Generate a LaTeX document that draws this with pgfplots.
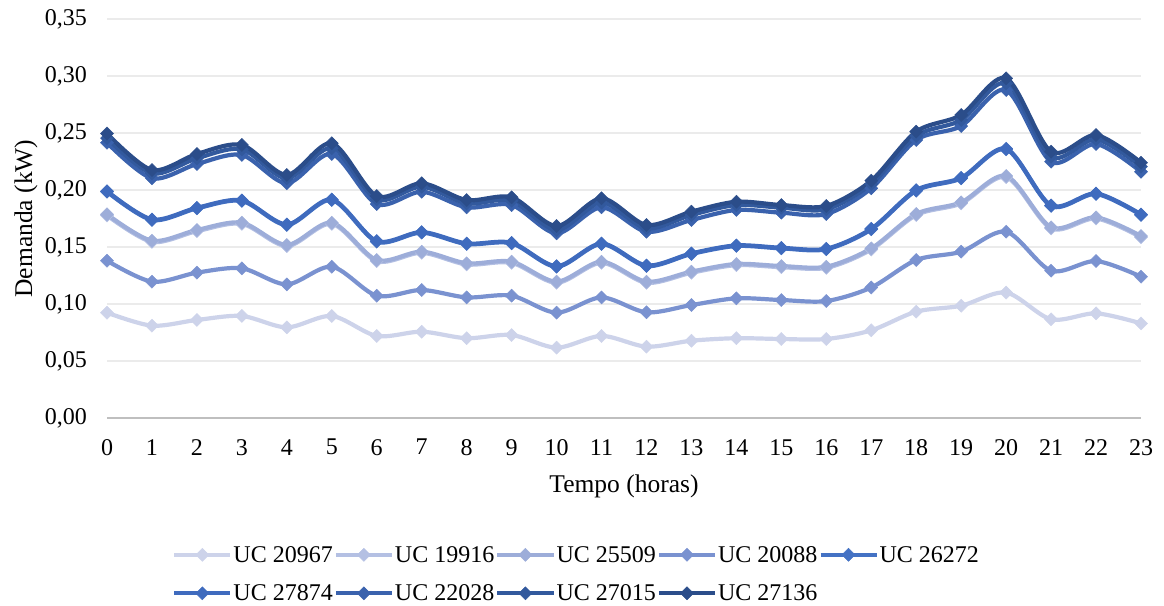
\documentclass[border=0pt]{standalone}
\usepackage{fontspec}
\setmainfont{Liberation Serif}
\usepackage{pgfplots}
\usepackage{pgfplotstable}
\pgfplotsset{compat=1.18}
\definecolor{cA}{HTML}{CDD3EA}
\definecolor{cB}{HTML}{B4C0E3}
\definecolor{cC}{HTML}{9DADD9}
\definecolor{cD}{HTML}{7A92D0}
\definecolor{cE}{HTML}{4472C4}
\definecolor{cF}{HTML}{3F6BBE}
\definecolor{cG}{HTML}{3A62AD}
\definecolor{cH}{HTML}{32599D}
\definecolor{cI}{HTML}{2B4D8A}
\definecolor{gridgray}{HTML}{EBEBEB}
\definecolor{axisgray}{HTML}{BFBFBF}

\pgfplotstableread{
h  uA      uB      uC      uD      uE      uF      uG      uH      uI
0  0.0924  0.1777  0.1787  0.1380  0.1985  0.1990  0.2415  0.2455  0.2495
1  0.0810  0.1545  0.1555  0.1196  0.1737  0.1742  0.2103  0.2146  0.2175
2  0.0860  0.1639  0.1649  0.1275  0.1839  0.1844  0.2228  0.2278  0.2316
3  0.0895  0.1703  0.1713  0.1313  0.1904  0.1909  0.2307  0.2357  0.2395
4  0.0795  0.1508  0.1518  0.1172  0.1693  0.1698  0.2059  0.2103  0.2132
5  0.0895  0.1703  0.1713  0.1327  0.1912  0.1917  0.2316  0.2366  0.2410
6  0.0720  0.1376  0.1386  0.1073  0.1547  0.1552  0.1877  0.1918  0.1947
7  0.0757  0.1449  0.1459  0.1123  0.1626  0.1631  0.1985  0.2029  0.2059
8  0.0700  0.1347  0.1357  0.1058  0.1526  0.1531  0.1848  0.1883  0.1912
9  0.0728  0.1361  0.1371  0.1073  0.1532  0.1537  0.1868  0.1906  0.1936
10 0.0617  0.1186  0.1196  0.0924  0.1327  0.1332  0.1620  0.1649  0.1684
11 0.0720  0.1361  0.1371  0.1058  0.1526  0.1531  0.1848  0.1889  0.1927
12 0.0626  0.1186  0.1196  0.0927  0.1333  0.1338  0.1634  0.1664  0.1693
13 0.0678  0.1274  0.1284  0.0991  0.1439  0.1444  0.1737  0.1781  0.1810
14 0.0700  0.1341  0.1351  0.1050  0.1509  0.1514  0.1825  0.1868  0.1897
15 0.0693  0.1323  0.1333  0.1035  0.1488  0.1493  0.1801  0.1845  0.1868
16 0.0693  0.1317  0.1327  0.1026  0.1480  0.1485  0.1789  0.1831  0.1860
17 0.0769  0.1478  0.1488  0.1145  0.1655  0.1660  0.2015  0.2053  0.2082
18 0.0933  0.1780  0.1790  0.1386  0.1994  0.1999  0.2439  0.2474  0.2512
19 0.0985  0.1882  0.1892  0.1459  0.2102  0.2107  0.2561  0.2614  0.2658
20 0.1100  0.2113  0.2123  0.1634  0.2357  0.2362  0.2877  0.2936  0.2980
21 0.0866  0.1663  0.1673  0.1292  0.1860  0.1865  0.2248  0.2292  0.2336
22 0.0918  0.1750  0.1760  0.1377  0.1965  0.1970  0.2404  0.2445  0.2482
23 0.0830  0.1586  0.1596  0.1240  0.1781  0.1786  0.2160  0.2205  0.2240
}\data

\pgfplotsset{
  ser/.style={color=#1, line width=4.2pt, smooth, mark=square*, mark size=4.6pt,
    mark options={rotate=45, fill=#1, line width=0.5pt, solid}},
}

\begin{document}
\begin{tikzpicture}
\begin{axis}[
  name=ax,
  scale only axis,
  width=1034pt, height=399pt,
  xmin=0, xmax=23, ymin=0, ymax=0.35,
  clip=false,
  xtick={0,1,...,23},
  ytick={0.05,0.1,0.15,0.2,0.25,0.3,0.35},
  extra y ticks={0},
  extra y tick style={grid style={color=axisgray, line width=2pt}},
  axis line style={draw=none},
  major tick length=0pt,
  ymajorgrids,
  grid style={color=gridgray, line width=1.5pt},
  scaled y ticks=false,
  /pgf/number format/assume math mode=true,
  yticklabel style={/pgf/number format/.cd, use comma, fixed, fixed zerofill, precision=2, /tikz/.cd,
     font=\rmfamily\fontsize{24}{28}\selectfont, inner sep=0pt, anchor=east, xshift=-20pt},
  xticklabel style={font=\rmfamily\fontsize{24}{28}\selectfont, inner sep=0pt, anchor=north, yshift=-21pt},
  xlabel={Tempo (horas)},
  ylabel={Demanda (kW)},
  xlabel style={font=\rmfamily\fontsize{25.5}{30}\selectfont, at={(axis description cs:0.5,0)}, anchor=base, yshift=-74pt, inner sep=0pt},
  ylabel style={font=\rmfamily\fontsize{25.5}{30}\selectfont, at={(axis description cs:-0.0725,0.5)}, anchor=base, inner sep=0pt},
  legend columns=5,
  legend cell align=left,
  legend style={at={(axis description cs:0.0629,-0.318)}, anchor=north west, draw=none, fill=none,
     inner sep=0pt, font=\rmfamily\fontsize{24}{28}\selectfont, nodes={inner sep=1pt}, row sep=19pt,
     /tikz/every odd column/.append style={column sep=0pt},
     /tikz/every even column/.append style={column sep=0pt}},
  legend image code/.code={\draw[mark repeat=2,mark phase=2,#1] plot coordinates {(0pt,0pt) (28pt,0pt) (56pt,0pt)};},
]
\addplot[ser=cA] table[x=h,y=uA] {\data};
\addlegendentry{UC 20967}
\addplot[ser=cB] table[x=h,y=uB] {\data};
\addlegendentry{UC 19916}
\addplot[ser=cC] table[x=h,y=uC] {\data};
\addlegendentry{UC 25509}
\addplot[ser=cD] table[x=h,y=uD] {\data};
\addlegendentry{UC 20088}
\addplot[ser=cE] table[x=h,y=uE] {\data};
\addlegendentry{UC 26272}
\addplot[ser=cF] table[x=h,y=uF] {\data};
\addlegendentry{UC 27874}
\addplot[ser=cG] table[x=h,y=uG] {\data};
\addlegendentry{UC 22028}
\addplot[ser=cH] table[x=h,y=uH] {\data};
\addlegendentry{UC 27015}
\addplot[ser=cI] table[x=h,y=uI] {\data};
\addlegendentry{UC 27136}
\end{axis}
\pgfresetboundingbox
\path ([shift={(-107pt,-187pt)}]ax.south west) rectangle ([shift={(23pt,19pt)}]ax.north east);
\end{tikzpicture}
\end{document}
